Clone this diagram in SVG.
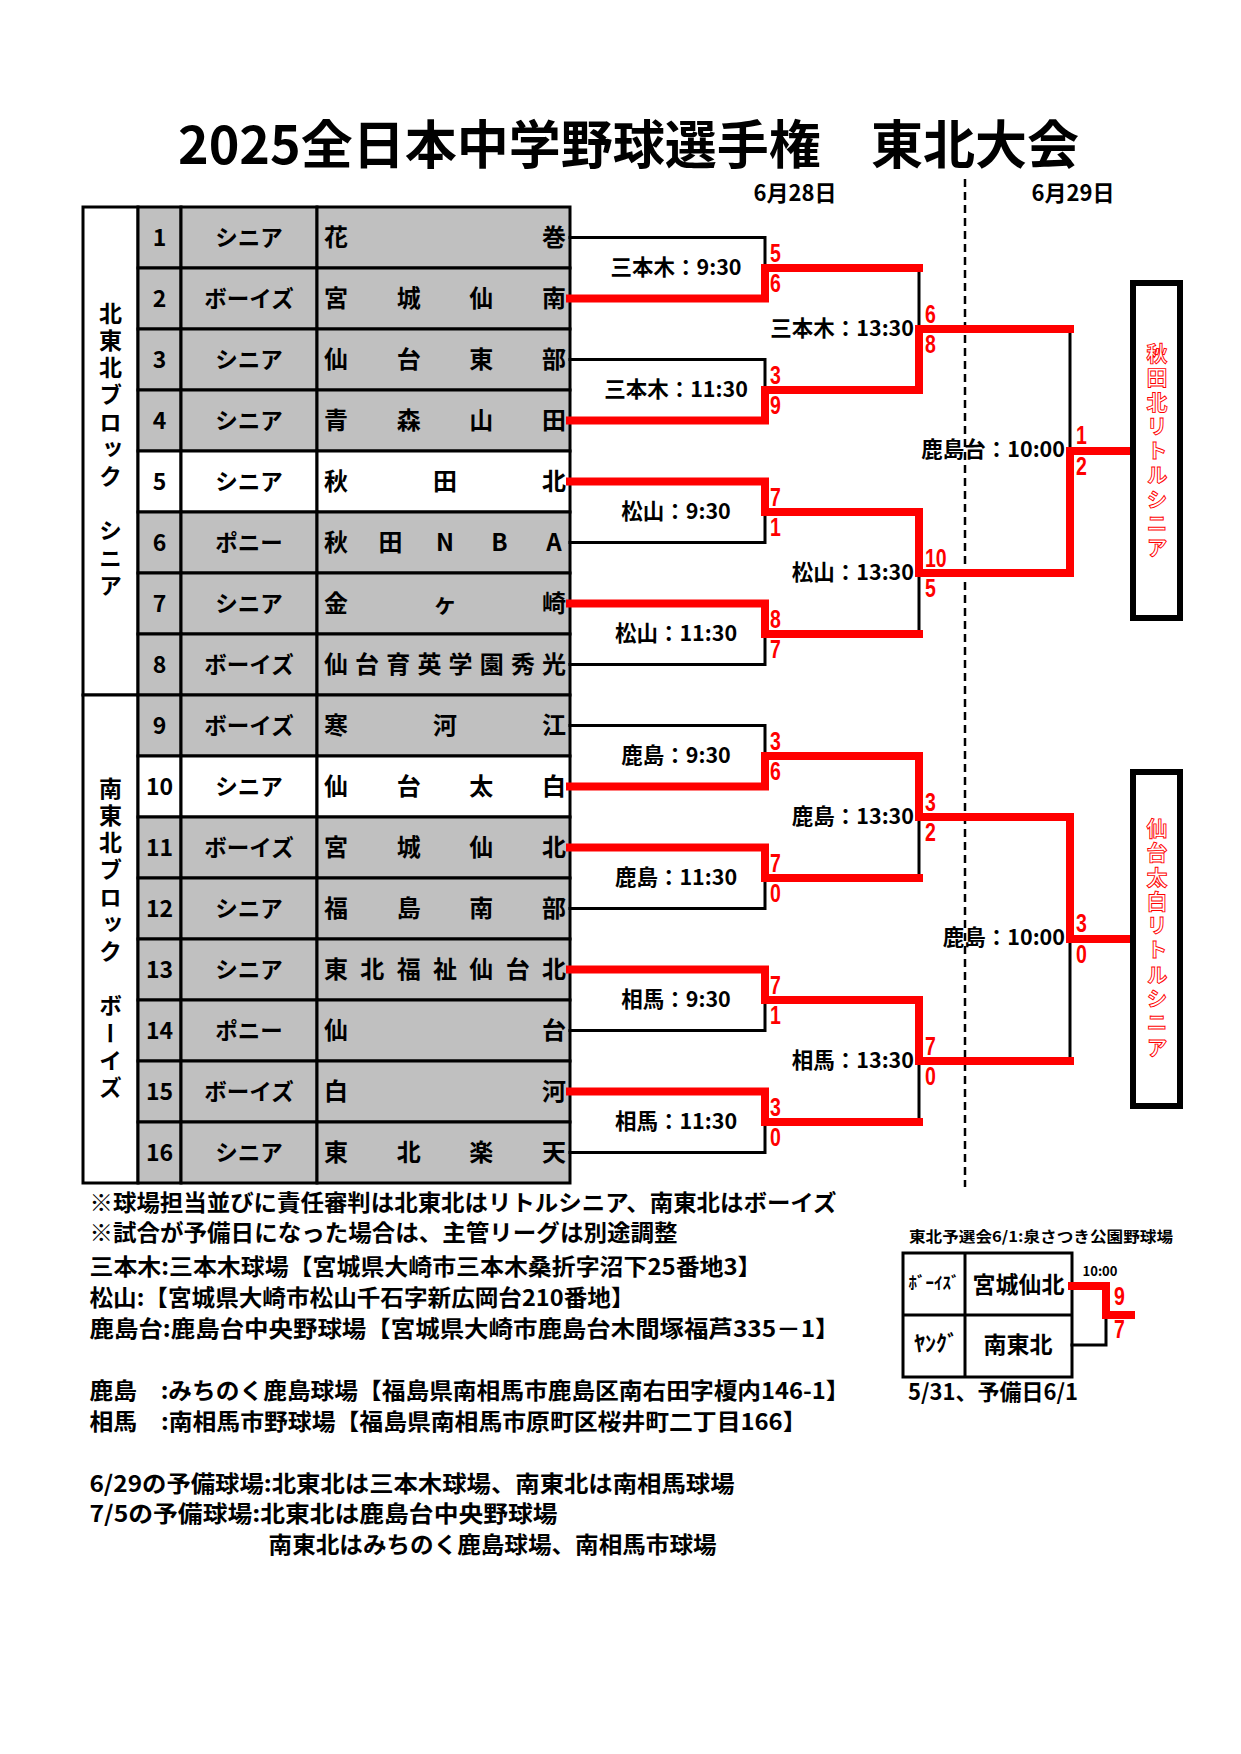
<svg xmlns="http://www.w3.org/2000/svg" width="1241" height="1754" viewBox="0 0 1241 1754">
<style>
.t{font-family:'Noto Sans CJK JP','Noto Sans CJK SC',sans-serif;font-weight:700;fill:#000}
.c{text-anchor:middle}
.e{text-anchor:end}
.g{fill:#c0c0c0;stroke:#000;stroke-width:3}
.wh{fill:#fff;stroke:#000;stroke-width:3}
.bk{fill:none;stroke:#000;stroke-width:3;stroke-linecap:square}
.rd{fill:none;stroke:#f00;stroke-width:8;stroke-linejoin:miter;stroke-linecap:square}
.sc{font-family:'Liberation Sans',Arial,sans-serif;font-weight:700;font-size:26px;fill:#f00}
.num{font-size:23px}
.typ{font-size:22.5px}
.nm{font-size:24px}
.lb{font-size:21.5px}
.vt{writing-mode:vertical-rl;font-size:23px;letter-spacing:4.2px}
.ch{writing-mode:vertical-rl;font-size:21px;letter-spacing:3.3px;fill:#fff;stroke:#f00;stroke-width:0.9px}
.note{font-size:22.5px}
.box{fill:#fff;stroke:#000;stroke-width:6}
</style>
<rect width="1241" height="1754" fill="#fff"/>

<g id="title">
<text class="t" font-size="52" x="178" y="164">2025全日本中学野球選手権<tspan x="871">東北大会</tspan></text>
<text class="t c" font-size="22" x="795" y="201">6月28日</text>
<text class="t c" font-size="22" x="1073" y="201">6月29日</text>
</g>

<g id="blocks">
<rect class="wh" x="83" y="207" width="55" height="488"/>
<rect class="wh" x="83" y="695" width="55" height="488"/>
<text class="t vt" x="110.5" y="301.5">北東北ブロック　シニア</text>
<text class="t vt" x="110.5" y="776.5">南東北ブロック　ボーイズ</text>
</g>

<g id="team-1"><rect class="g" x="138" y="207" width="43" height="61"/><rect class="g" x="181" y="207" width="136" height="61"/><rect class="g" x="317" y="207" width="253" height="61"/><text class="t c num" x="159.5" y="246">1</text><text class="t c typ" x="249" y="246">シニア</text><text class="t c nm" x="336 554" y="246">花巻</text></g>
<g id="team-2"><rect class="g" x="138" y="268" width="43" height="61"/><rect class="g" x="181" y="268" width="136" height="61"/><rect class="g" x="317" y="268" width="253" height="61"/><text class="t c num" x="159.5" y="307">2</text><text class="t c typ" x="249" y="307">ボーイズ</text><text class="t c nm" x="336 408.7 481.3 554" y="307">宮城仙南</text></g>
<g id="team-3"><rect class="g" x="138" y="329" width="43" height="61"/><rect class="g" x="181" y="329" width="136" height="61"/><rect class="g" x="317" y="329" width="253" height="61"/><text class="t c num" x="159.5" y="368">3</text><text class="t c typ" x="249" y="368">シニア</text><text class="t c nm" x="336 408.7 481.3 554" y="368">仙台東部</text></g>
<g id="team-4"><rect class="g" x="138" y="390" width="43" height="61"/><rect class="g" x="181" y="390" width="136" height="61"/><rect class="g" x="317" y="390" width="253" height="61"/><text class="t c num" x="159.5" y="429">4</text><text class="t c typ" x="249" y="429">シニア</text><text class="t c nm" x="336 408.7 481.3 554" y="429">青森山田</text></g>
<g id="team-5"><rect class="wh" x="138" y="451" width="43" height="61"/><rect class="wh" x="181" y="451" width="136" height="61"/><rect class="wh" x="317" y="451" width="253" height="61"/><text class="t c num" x="159.5" y="490">5</text><text class="t c typ" x="249" y="490">シニア</text><text class="t c nm" x="336 445 554" y="490">秋田北</text></g>
<g id="team-6"><rect class="g" x="138" y="512" width="43" height="61"/><rect class="g" x="181" y="512" width="136" height="61"/><rect class="g" x="317" y="512" width="253" height="61"/><text class="t c num" x="159.5" y="551">6</text><text class="t c typ" x="249" y="551">ポニー</text><text class="t c nm" x="336 390.5 445 499.5 554" y="551">秋田NBA</text></g>
<g id="team-7"><rect class="g" x="138" y="573" width="43" height="61"/><rect class="g" x="181" y="573" width="136" height="61"/><rect class="g" x="317" y="573" width="253" height="61"/><text class="t c num" x="159.5" y="612">7</text><text class="t c typ" x="249" y="612">シニア</text><text class="t c nm" x="336 445 554" y="612">金ヶ崎</text></g>
<g id="team-8"><rect class="g" x="138" y="634" width="43" height="61"/><rect class="g" x="181" y="634" width="136" height="61"/><rect class="g" x="317" y="634" width="253" height="61"/><text class="t c num" x="159.5" y="673">8</text><text class="t c typ" x="249" y="673">ボーイズ</text><text class="t c nm" x="336 367.1 398.3 429.4 460.6 491.7 522.9 554" y="673">仙台育英学園秀光</text></g>
<g id="team-9"><rect class="g" x="138" y="695" width="43" height="61"/><rect class="g" x="181" y="695" width="136" height="61"/><rect class="g" x="317" y="695" width="253" height="61"/><text class="t c num" x="159.5" y="734">9</text><text class="t c typ" x="249" y="734">ボーイズ</text><text class="t c nm" x="336 445 554" y="734">寒河江</text></g>
<g id="team-10"><rect class="wh" x="138" y="756" width="43" height="61"/><rect class="wh" x="181" y="756" width="136" height="61"/><rect class="wh" x="317" y="756" width="253" height="61"/><text class="t c num" x="159.5" y="795">10</text><text class="t c typ" x="249" y="795">シニア</text><text class="t c nm" x="336 408.7 481.3 554" y="795">仙台太白</text></g>
<g id="team-11"><rect class="g" x="138" y="817" width="43" height="61"/><rect class="g" x="181" y="817" width="136" height="61"/><rect class="g" x="317" y="817" width="253" height="61"/><text class="t c num" x="159.5" y="856">11</text><text class="t c typ" x="249" y="856">ボーイズ</text><text class="t c nm" x="336 408.7 481.3 554" y="856">宮城仙北</text></g>
<g id="team-12"><rect class="g" x="138" y="878" width="43" height="61"/><rect class="g" x="181" y="878" width="136" height="61"/><rect class="g" x="317" y="878" width="253" height="61"/><text class="t c num" x="159.5" y="917">12</text><text class="t c typ" x="249" y="917">シニア</text><text class="t c nm" x="336 408.7 481.3 554" y="917">福島南部</text></g>
<g id="team-13"><rect class="g" x="138" y="939" width="43" height="61"/><rect class="g" x="181" y="939" width="136" height="61"/><rect class="g" x="317" y="939" width="253" height="61"/><text class="t c num" x="159.5" y="978">13</text><text class="t c typ" x="249" y="978">シニア</text><text class="t c nm" x="336 372.3 408.7 445 481.3 517.7 554" y="978">東北福祉仙台北</text></g>
<g id="team-14"><rect class="g" x="138" y="1000" width="43" height="61"/><rect class="g" x="181" y="1000" width="136" height="61"/><rect class="g" x="317" y="1000" width="253" height="61"/><text class="t c num" x="159.5" y="1039">14</text><text class="t c typ" x="249" y="1039">ポニー</text><text class="t c nm" x="336 554" y="1039">仙台</text></g>
<g id="team-15"><rect class="g" x="138" y="1061" width="43" height="61"/><rect class="g" x="181" y="1061" width="136" height="61"/><rect class="g" x="317" y="1061" width="253" height="61"/><text class="t c num" x="159.5" y="1100">15</text><text class="t c typ" x="249" y="1100">ボーイズ</text><text class="t c nm" x="336 554" y="1100">白河</text></g>
<g id="team-16"><rect class="g" x="138" y="1122" width="43" height="61"/><rect class="g" x="181" y="1122" width="136" height="61"/><rect class="g" x="317" y="1122" width="253" height="61"/><text class="t c num" x="159.5" y="1161">16</text><text class="t c typ" x="249" y="1161">シニア</text><text class="t c nm" x="336 408.7 481.3 554" y="1161">東北楽天</text></g>

<g id="connectors">
<line x1="965" y1="179" x2="965" y2="1187" stroke="#000" stroke-width="2.5" stroke-dasharray="8 5"/>
<path class="bk" d="M570,237.5H765V268"/>
<path class="bk" d="M570,359.5H765V390"/>
<path class="bk" d="M919,268V329"/>
<path class="bk" d="M1070,329V451"/>
<path class="bk" d="M570,542.5H765V512"/>
<path class="bk" d="M570,664.5H765V634"/>
<path class="bk" d="M919,634V573"/>
<path class="bk" d="M570,725.5H765V756"/>
<path class="bk" d="M570,908.5H765V878"/>
<path class="bk" d="M919,878V817"/>
<path class="bk" d="M570,1030.5H765V1000"/>
<path class="bk" d="M570,1152.5H765V1122"/>
<path class="bk" d="M919,1122V1061"/>
<path class="bk" d="M1070,1061V939"/>
<path class="rd" d="M570,298.5H765V268H919"/>
<path class="rd" d="M570,420.5H765V390H919V329H1070"/>
<path class="rd" d="M570,481.5H765V512H919V573H1070V451H1129"/>
<path class="rd" d="M570,603.5H765V634H919"/>
<path class="rd" d="M570,786.5H765V756H919V817H1070V939H1129"/>
<path class="rd" d="M570,847.5H765V878H919"/>
<path class="rd" d="M570,969.5H765V1000H919V1061H1070"/>
<path class="rd" d="M570,1091.5H765V1122H919"/>
</g>

<g id="m1"><text class="t c lb" x="676" y="275">三本木：9:30</text><text class="sc" transform="translate(770 262) scale(.75 1)">5</text><text class="sc" transform="translate(770 292) scale(.75 1)">6</text></g>
<g id="m2"><text class="t c lb" x="676" y="397">三本木：11:30</text><text class="sc" transform="translate(770 384) scale(.75 1)">3</text><text class="sc" transform="translate(770 414) scale(.75 1)">9</text></g>
<g id="m3"><text class="t c lb" x="676" y="519">松山：9:30</text><text class="sc" transform="translate(770 506) scale(.75 1)">7</text><text class="sc" transform="translate(770 536) scale(.75 1)">1</text></g>
<g id="m4"><text class="t c lb" x="676" y="641">松山：11:30</text><text class="sc" transform="translate(770 628) scale(.75 1)">8</text><text class="sc" transform="translate(770 658) scale(.75 1)">7</text></g>
<g id="m5"><text class="t c lb" x="676" y="763">鹿島：9:30</text><text class="sc" transform="translate(770 750) scale(.75 1)">3</text><text class="sc" transform="translate(770 780) scale(.75 1)">6</text></g>
<g id="m6"><text class="t c lb" x="676" y="885">鹿島：11:30</text><text class="sc" transform="translate(770 872) scale(.75 1)">7</text><text class="sc" transform="translate(770 902) scale(.75 1)">0</text></g>
<g id="m7"><text class="t c lb" x="676" y="1007">相馬：9:30</text><text class="sc" transform="translate(770 994) scale(.75 1)">7</text><text class="sc" transform="translate(770 1024) scale(.75 1)">1</text></g>
<g id="m8"><text class="t c lb" x="676" y="1129">相馬：11:30</text><text class="sc" transform="translate(770 1116) scale(.75 1)">3</text><text class="sc" transform="translate(770 1146) scale(.75 1)">0</text></g>
<g id="s1"><text class="t e lb" x="914" y="336">三本木：13:30</text><text class="sc" transform="translate(925 323) scale(.75 1)">6</text><text class="sc" transform="translate(925 353) scale(.75 1)">8</text></g>
<g id="s2"><text class="t e lb" x="914" y="580">松山：13:30</text><text class="sc" transform="translate(925 567) scale(.75 1)">10</text><text class="sc" transform="translate(925 597) scale(.75 1)">5</text></g>
<g id="s3"><text class="t e lb" x="914" y="824">鹿島：13:30</text><text class="sc" transform="translate(925 811) scale(.75 1)">3</text><text class="sc" transform="translate(925 841) scale(.75 1)">2</text></g>
<g id="s4"><text class="t e lb" x="914" y="1068">相馬：13:30</text><text class="sc" transform="translate(925 1055) scale(.75 1)">7</text><text class="sc" transform="translate(925 1085) scale(.75 1)">0</text></g>
<g id="t1"><text class="t e lb" x="1065" y="457">鹿島台：10:00</text><text class="sc" transform="translate(1076 444) scale(.75 1)">1</text><text class="sc" transform="translate(1076 475) scale(.75 1)">2</text></g>
<g id="t2"><text class="t e lb" x="1065" y="945">鹿島：10:00</text><text class="sc" transform="translate(1076 932) scale(.75 1)">3</text><text class="sc" transform="translate(1076 963) scale(.75 1)">0</text></g>

<g id="champ-north"><rect class="box" x="1133" y="283" width="47" height="335"/><text class="t ch" x="1157" y="342.5">秋田北リトルシニア</text></g>
<g id="champ-south"><rect class="box" x="1133" y="772" width="47" height="334"/><text class="t ch" x="1157" y="817.5">仙台太白リトルシニア</text></g>

<g id="notes">
<text class="t note" x="89.5" y="1211" textLength="747" lengthAdjust="spacingAndGlyphs">※球場担当並びに責任審判は北東北はリトルシニア、南東北はボーイズ</text>
<text class="t note" x="89.5" y="1241" textLength="588" lengthAdjust="spacingAndGlyphs">※試合が予備日になった場合は、主管リーグは別途調整</text>
<text class="t note" x="89.5" y="1275" textLength="672" lengthAdjust="spacingAndGlyphs">三本木:三本木球場【宮城県大崎市三本木桑折字沼下25番地3】</text>
<text class="t note" x="89.5" y="1306" textLength="545" lengthAdjust="spacingAndGlyphs">松山:【宮城県大崎市松山千石字新広岡台210番地】</text>
<text class="t note" x="89.5" y="1337" textLength="750" lengthAdjust="spacingAndGlyphs">鹿島台:鹿島台中央野球場【宮城県大崎市鹿島台木間塚福芦335－1】</text>
<text class="t note" x="89.5" y="1399" textLength="760" lengthAdjust="spacingAndGlyphs">鹿島　:みちのく鹿島球場【福島県南相馬市鹿島区南右田字榎内146-1】</text>
<text class="t note" x="89.5" y="1430" textLength="717" lengthAdjust="spacingAndGlyphs">相馬　:南相馬市野球場【福島県南相馬市原町区桜井町二丁目166】</text>
<text class="t note" x="89.5" y="1492" textLength="645" lengthAdjust="spacingAndGlyphs">6/29の予備球場:北東北は三本木球場、南東北は南相馬球場</text>
<text class="t note" x="89.5" y="1522" textLength="468" lengthAdjust="spacingAndGlyphs">7/5の予備球場:北東北は鹿島台中央野球場</text>
<text class="t note" x="268.6" y="1553" textLength="448" lengthAdjust="spacingAndGlyphs">南東北はみちのく鹿島球場、南相馬市球場</text>
</g>

<g id="qualifier">
<text class="t" font-size="15" x="909" y="1242" textLength="264" lengthAdjust="spacingAndGlyphs">東北予選会6/1:泉さつき公園野球場</text>
<rect x="903" y="1253" width="169" height="124" fill="#fff" stroke="#000" stroke-width="3"/>
<line x1="903" y1="1315" x2="1072" y2="1315" stroke="#000" stroke-width="3"/>
<line x1="965" y1="1253" x2="965" y2="1377" stroke="#000" stroke-width="3"/>
<text class="t c" font-size="17" x="934" y="1289">ﾎﾞｰｲｽﾞ</text>
<text class="t c" font-size="23" x="1018.5" y="1293">宮城仙北</text>
<text class="t c" font-size="22" x="936" y="1351">ﾔﾝｸﾞ</text>
<text class="t c" font-size="23" x="1018" y="1353">南東北</text>
<path class="bk" d="M1072,1345H1106V1315"/>
<path class="rd" d="M1072,1286H1106V1315H1131"/>
<text class="t c" font-size="13" font-weight="400" x="1100" y="1276">10:00</text>
<text class="sc" transform="translate(1114 1305) scale(.75 1)">9</text>
<text class="sc" transform="translate(1114 1338) scale(.75 1)">7</text>
<text class="t" font-size="22" x="908" y="1400">5/31、予備日6/1</text>
</g>
</svg>
